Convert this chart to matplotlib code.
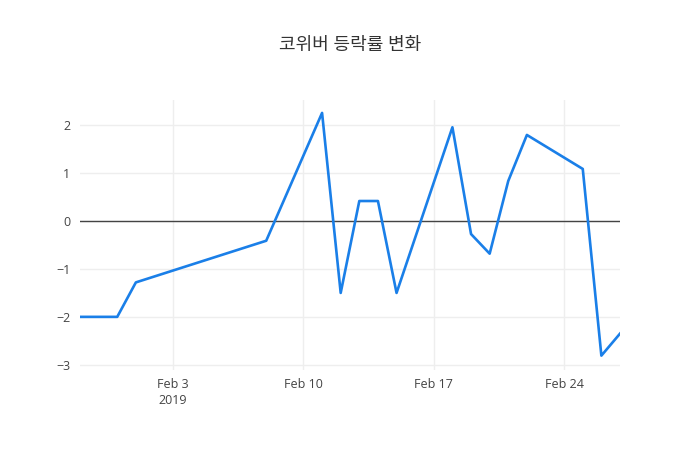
import matplotlib
matplotlib.use('Agg')
import matplotlib.pyplot as plt
import pandas as pd

plt.rcParams['font.family'] = ['Open Sans', 'Noto Sans CJK KR', 'DejaVu Sans']

dates = ['2019-01-29', '2019-01-31', '2019-02-01', '2019-02-08', '2019-02-11',
         '2019-02-12', '2019-02-13', '2019-02-14', '2019-02-15', '2019-02-18',
         '2019-02-19', '2019-02-20', '2019-02-21', '2019-02-22', '2019-02-25',
         '2019-02-26', '2019-02-27']
rates = [-2.0, -2.0, -1.28, -0.41, 2.26,
         -1.50, 0.42, 0.42, -1.50, 1.96,
         -0.27, -0.68, 0.84, 1.80, 1.09,
         -2.81, -2.35]
title = '코위버 등락률 변화'
tick_dates = ['2019-02-03', '2019-02-10', '2019-02-17', '2019-02-24']
tick_labels = ['Feb 3\n2019', 'Feb 10', 'Feb 17', 'Feb 24']

x = pd.to_datetime(dates)

fig = plt.figure(figsize=(7, 4.5), dpi=100)
ax = fig.add_axes([80 / 700, 80 / 450, 540 / 700, 270 / 450])

ax.plot(x, rates, color='#1a7fe8', linewidth=1.9, zorder=3)
ax.axhline(0, color='#444444', linewidth=1, zorder=2)

ax.set_xlim(x[0], x[-1])
ax.set_ylim(-3.11, 2.53)
ax.set_yticks([-3, -2, -1, 0, 1, 2])
ax.set_yticklabels(['\u22123', '\u22122', '\u22121', '0', '1', '2'])
ax.set_xticks(pd.to_datetime(tick_dates))
ax.set_xticklabels(tick_labels, linespacing=1.3)

ax.grid(True, color='#eeeeee', linewidth=1, zorder=0)
for s in ax.spines.values():
    s.set_visible(False)
ax.tick_params(length=0, labelsize=9, labelcolor='#444444')
ax.tick_params(axis='y', pad=7)
ax.tick_params(axis='x', pad=6)

fig.suptitle(title, y=1 - 45 / 450, va='center', fontsize=13, color='#333333')

fig.savefig('out.png', dpi=100)
